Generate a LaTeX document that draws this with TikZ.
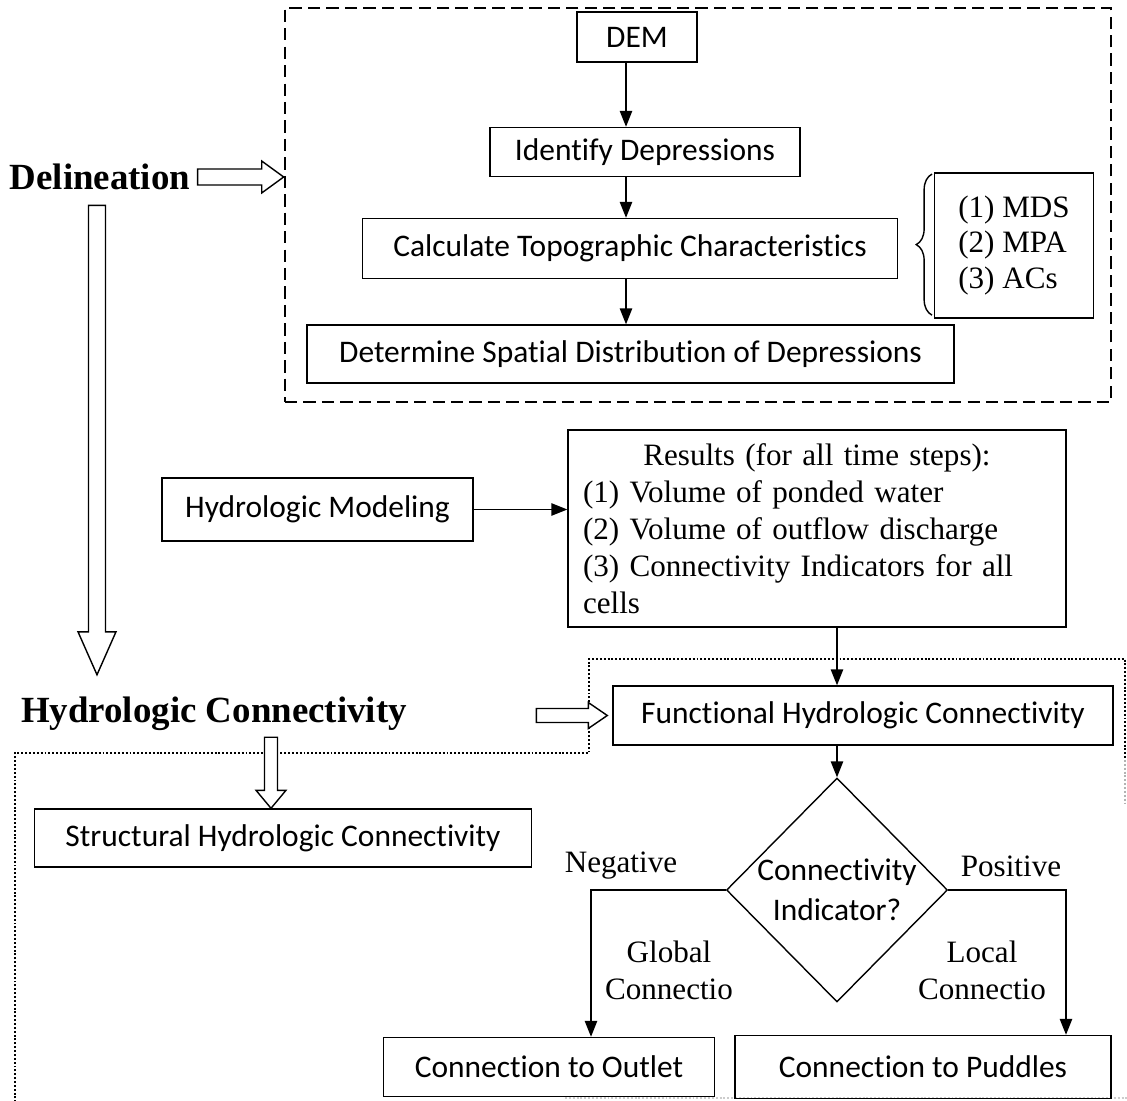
\documentclass[tikz,border=0pt]{standalone}
\usepackage{fontspec}
\setmainfont{Liberation Serif}
\newfontfamily\calib{Carlito}[Ligatures=NoCommon]
\usetikzlibrary{shapes.geometric, arrows.meta, calc, decorations.pathreplacing}

\newcommand{\pxu}{0.567pt}
% open block arrow: start, tip, shaft half width, head half width, head length (px)
\newcommand{\hollowarrow}[5]{%
  \path (#1) coordinate (ha-s) (#2) coordinate (ha-e);
  \path ($(ha-e)!#5*\pxu!(ha-s)$) coordinate (ha-b);
  \draw[hollow] ($(ha-s)!#3*\pxu!90:(ha-e)$) -- ($(ha-b)!#3*\pxu!90:(ha-e)$)
    -- ($(ha-b)!#4*\pxu!90:(ha-e)$) -- (ha-e)
    -- ($(ha-b)!#4*\pxu!-90:(ha-e)$) -- ($(ha-b)!#3*\pxu!-90:(ha-e)$)
    -- ($(ha-s)!#3*\pxu!-90:(ha-e)$) -- cycle;}

\begin{document}
\begin{tikzpicture}[
    x=0.02cm, y=-0.02cm,
    sz/.style 2 args={minimum width=#1*0.02cm, minimum height=#2*0.02cm},
    box/.style={rectangle, draw, line width=0.8pt, inner sep=0pt, font=\calib\fontsize{17.9}{21}\selectfont},
    lbl/.style={font=\fontsize{17.7}{21}\selectfont, inner sep=0pt},
    head/.style={font=\bfseries\fontsize{21}{25}\selectfont, inner sep=0pt},
    a/.style={-{Triangle[length=9pt, width=7pt]}, line width=0.8pt},
    hollow/.style={draw, line width=0.8pt, fill=white},
    dashbox/.style={draw, dash pattern=on 7pt off 3.5pt, line width=1.5pt},
    dotline/.style={dash pattern=on 1.1pt off 1.1pt, line width=1.6pt},
]
\useasboundingbox (0,0) rectangle (1127,1101);
\fill[white] (0,0) rectangle (1127,1101);

% delineation part
\node[dashbox, sz={826}{394}] (delbox) at (698,205) {};
\coordinate (spine) at (626,0);
\node[box, sz={120}{50}] (dem) at (637,37) {DEM};
\node[box, sz={310}{49}] (ident) at (645,152) {Identify Depressions};
\node[box, sz={535}{60}] (calc) at (630,248.5) {Calculate Topographic Characteristics};
\node[box, sz={647}{58}] (determ) at (630.5,354) {Determine Spatial Distribution of Depressions};
\node[box, sz={159}{145}, font=\fontsize{17.7}{20}\selectfont, align=left] (acs) at (1014,245.5) {(1) MDS\\(2) MPA\\(3) ACs};

\draw[a] (dem.south -| spine) -- (ident.north -| spine);
\draw[a] (ident.south -| spine) -- (calc.north -| spine);
\draw[a] (calc.south -| spine) -- (determ.north -| spine);
\draw[line width=0.8pt, decorate, decoration={brace, amplitude=9pt}]
  ([xshift=-1pt, yshift=2pt]acs.south west) -- ([xshift=-1pt, yshift=-1pt]acs.north west);

\node[head] (delin) at (100,177) {Delineation};
\node[head] (hc) at (214,714) {Hydrologic Connectivity};

% hydrologic modeling
\node[box, sz={311}{63}] (hmod) at (317.5,509.5) {Hydrologic Modeling};
\node[box, sz={498}{197}, font=\fontsize{17.7}{21}\selectfont, text width=468*0.02cm, align=left] (res) at (817,528.5)
  {\makebox[\linewidth]{Results (for all time steps):}\\(1) Volume of ponded water\\(2) Volume of outflow discharge\\(3) Connectivity Indicators for all\\cells};
\draw[a] (hmod.east) -- (hmod.east -| res.west);

% connectivity part
\draw[dotline] (15,1110) -- (15,753) -- (589,753) -- (589,659) -- (1125,659) -- (1125,760);
\draw[dotline, gray!60] (1125,760) -- (1125,805);
\draw[dotline, gray!40] (565,1098) -- (1127,1098);

\node[box, sz={500}{59}] (func) at (863,715.5) {Functional Hydrologic Connectivity};
\node[box, sz={497}{58}] (struct) at (283,838) {Structural Hydrologic Connectivity};
\node[diamond, draw, line width=0.8pt, sz={221}{224}, inner sep=0pt] (dia) at (837,890) {};
\node[box, draw=none, align=center, font=\calib\fontsize{17.9}{23}\selectfont] (diatext) at (dia) {Connectivity\\Indicator?};
\node[box, sz={331}{59}] (outlet) at (549,1067) {Connection to Outlet};
\node[box, sz={376}{63}] (puddles) at (923,1067) {Connection to Puddles};

\draw[a] (dia.north |- res.south) -- (dia.north |- func.north);
\draw[a] (func.south -| dia.north) -- (dia.north);
\draw[a] (dia.west) -| ([xshift=42*0.02cm]outlet.north);
\draw[a] (dia.east) -| ([xshift=143*0.02cm]puddles.north);

\node[lbl] (neg) at (621,866) {Negative};
\node[lbl] (pos) at (1011,866) {Positive};
\node[lbl, align=center] (glob) at (669,970) {Global\\Connectio};
\node[lbl, align=center] (loc) at (982,970) {Local\\Connectio};

% open arrows
\coordinate (vtop) at ([xshift=-3*0.02cm, yshift=-15*0.02cm]delin.south);
\coordinate (vtip) at ([yshift=22*0.02cm]hc.north -| vtop);
\coordinate (stop) at ([xshift=-12*0.02cm]struct.north |- hc.south);
\hollowarrow{[xshift=4pt]delin.east}{delbox.west |- delin.east}{8}{16}{22}
\hollowarrow{vtop}{vtip}{8.5}{19}{43}
\hollowarrow{[xshift=-76*0.02cm]func.west}{[xshift=-5*0.02cm]func.west}{7}{13}{19}
\hollowarrow{[yshift=-6*0.02cm]stop}{[xshift=-12*0.02cm]struct.north}{6.5}{15}{18}
\end{tikzpicture}
\end{document}
